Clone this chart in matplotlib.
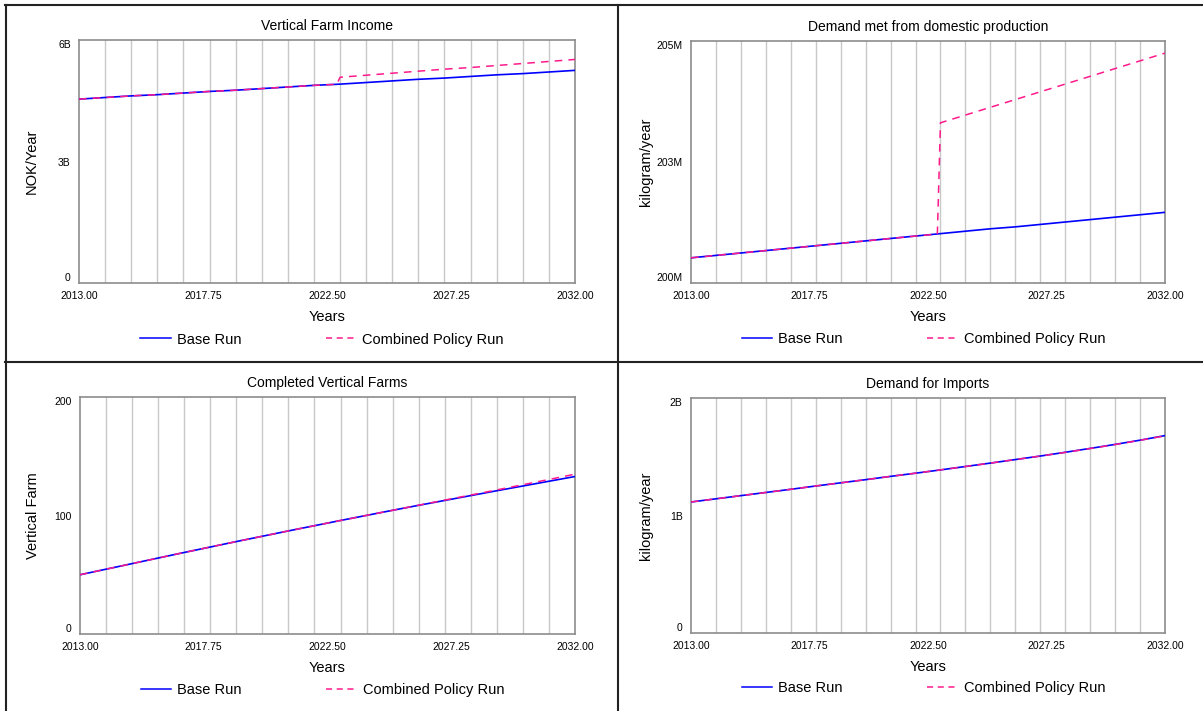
import matplotlib.pyplot as plt
import matplotlib.lines as mlines

plt.rcParams['font.family'] = ['Liberation Sans', 'DejaVu Sans']

years = [2013, 2014, 2015, 2016, 2017, 2018, 2019, 2020, 2021, 2022,
         2023, 2024, 2025, 2026, 2027, 2028, 2029, 2030, 2031, 2032]
# policy kicks in just before 2023, so the jump gets its own point
jump_years = [2013, 2014, 2015, 2016, 2017, 2018, 2019, 2020, 2021, 2022, 2022.875,
              2023, 2024, 2025, 2026, 2027, 2028, 2029, 2030, 2031, 2032]

# Vertical Farm Income (NOK/Year)
income_base = [4.54e9, 4.58e9, 4.62e9, 4.65e9, 4.69e9, 4.73e9, 4.76e9, 4.80e9, 4.84e9, 4.88e9,
               4.91e9, 4.95e9, 4.99e9, 5.03e9, 5.06e9, 5.10e9, 5.14e9, 5.17e9, 5.21e9, 5.25e9]
income_policy = [4.54e9, 4.58e9, 4.62e9, 4.65e9, 4.69e9, 4.73e9, 4.76e9, 4.80e9, 4.84e9, 4.88e9, 4.906e9,
                 5.08e9, 5.13e9, 5.18e9, 5.23e9, 5.28e9, 5.32e9, 5.37e9, 5.42e9, 5.47e9, 5.52e9]

# Demand met from domestic production (kilogram/year)
domestic_base = [200.52e6, 200.57e6, 200.62e6, 200.67e6, 200.72e6, 200.77e6, 200.82e6, 200.87e6, 200.92e6, 200.97e6,
                 201.02e6, 201.07e6, 201.12e6, 201.16e6, 201.21e6, 201.26e6, 201.31e6, 201.36e6, 201.41e6, 201.46e6]
domestic_policy = [200.52e6, 200.57e6, 200.62e6, 200.67e6, 200.72e6, 200.77e6, 200.82e6, 200.87e6, 200.92e6, 200.97e6, 201.01e6,
                   203.31e6, 203.47e6, 203.63e6, 203.79e6, 203.95e6, 204.11e6, 204.27e6, 204.43e6, 204.59e6, 204.75e6]

# Completed Vertical Farms
farms_base = [50.0, 54.7, 59.4, 64.1, 68.8, 73.4, 78.0, 82.5, 87.0, 91.4,
              95.8, 100.1, 104.4, 108.6, 112.7, 116.8, 120.9, 124.9, 128.9, 132.9]
farms_policy = [50.0, 54.7, 59.4, 64.1, 68.8, 73.4, 78.0, 82.5, 87.0, 91.4,
                95.8, 100.1, 104.4, 108.7, 113.0, 117.3, 121.6, 126.0, 130.4, 134.9]

# Demand for Imports (kilogram/year)
imports_base = [1.115e9, 1.142e9, 1.169e9, 1.196e9, 1.223e9, 1.251e9, 1.278e9, 1.305e9, 1.333e9, 1.360e9,
                1.388e9, 1.417e9, 1.446e9, 1.476e9, 1.506e9, 1.538e9, 1.571e9, 1.605e9, 1.641e9, 1.680e9]
imports_policy = [1.115e9, 1.142e9, 1.169e9, 1.196e9, 1.223e9, 1.251e9, 1.278e9, 1.305e9, 1.333e9, 1.360e9,
                  1.388e9, 1.417e9, 1.446e9, 1.476e9, 1.506e9, 1.537e9, 1.570e9, 1.604e9, 1.640e9, 1.678e9]

xticks = [2013.0, 2017.75, 2022.5, 2027.25, 2032.0]
xtick_labels = ['2013.00', '2017.75', '2022.50', '2027.25', '2032.00']

BLUE = '#0000ff'
PINK = '#ff1a8c'
W, H = 1203, 711


def px_axes(fig, left, top, right, bottom):
    return fig.add_axes([left / W, 1 - bottom / H, (right - left) / W, (bottom - top) / H])


def panel(ax, title, ylabel, base_x, base_y, pol_x, pol_y, ylim, yticks, ylabels):
    for yr in years[1:-1]:
        ax.axvline(yr, color='#c8c8c8', lw=1.0, zorder=0)
    ax.plot(base_x, base_y, color=BLUE, lw=1.2, zorder=3)
    ax.plot(pol_x, pol_y, color=PINK, lw=1.1, ls=(0, (5, 4)), zorder=4)
    ax.set_xlim(2013, 2032)
    ax.set_ylim(*ylim)
    ax.set_xticks(xticks)
    ax.set_xticklabels(xtick_labels, fontsize=7.5)
    ax.set_yticks(yticks)
    ax.set_yticklabels(ylabels, fontsize=7.5)
    lbls = ax.get_yticklabels()
    lbls[0].set_va('bottom')
    lbls[-1].set_va('top')
    ax.tick_params(length=0, pad=6)
    for s in ax.spines.values():
        s.set_color('#8c8c8c')
        s.set_linewidth(1.2)
    ax.set_title(title, fontsize=10, pad=7)
    ax.set_xlabel('Years', fontsize=10.5, labelpad=6)
    ax.set_ylabel(ylabel, fontsize=10.5)
    ax.yaxis.set_label_coords(-0.081, 0.5)
    h1 = mlines.Line2D([], [], color=BLUE, lw=1.1)
    h2 = mlines.Line2D([], [], color=PINK, lw=1.1, ls=(0, (4, 3)))
    ax.legend([h1, h2], ['Base Run', 'Combined Policy Run'], ncol=2, frameon=False,
              loc='upper center', bbox_to_anchor=(0.49, -0.15), fontsize=10.5,
              handlelength=2.1, handletextpad=0.4, columnspacing=5.8)


fig = plt.figure(figsize=(W / 100, H / 100), dpi=100)

ax1 = px_axes(fig, 79, 40, 575, 283)
panel(ax1, 'Vertical Farm Income', 'NOK/Year', years, income_base, jump_years, income_policy,
      (0, 6e9), [0, 3e9, 6e9], ['0', '3B', '6B'])

ax2 = px_axes(fig, 691, 41, 1165, 283)
panel(ax2, 'Demand met from domestic production', 'kilogram/year', years, domestic_base,
      jump_years, domestic_policy, (200e6, 205e6), [200e6, 202.5e6, 205e6], ['200M', '203M', '205M'])

ax3 = px_axes(fig, 80, 397, 575, 634)
panel(ax3, 'Completed Vertical Farms', 'Vertical Farm', years, farms_base, years, farms_policy,
      (0, 200), [0, 100, 200], ['0', '100', '200'])

ax4 = px_axes(fig, 691, 398, 1165, 633)
panel(ax4, 'Demand for Imports', 'kilogram/year', years, imports_base, years, imports_policy,
      (0, 2e9), [0, 1e9, 2e9], ['0', '1B', '2B'])

# panel frames
def fig_line(x0, y0, x1, y1):
    fig.add_artist(mlines.Line2D([x0 / W, x1 / W], [1 - y0 / H, 1 - y1 / H],
                                 color='#222222', lw=1.5, transform=fig.transFigure))

fig_line(5, 5, W, 5)
fig_line(6, 5, 6, H)
fig_line(618, 5, 618, H)
fig_line(5, 362, W, 362)

fig.savefig('out.png', dpi=100)
